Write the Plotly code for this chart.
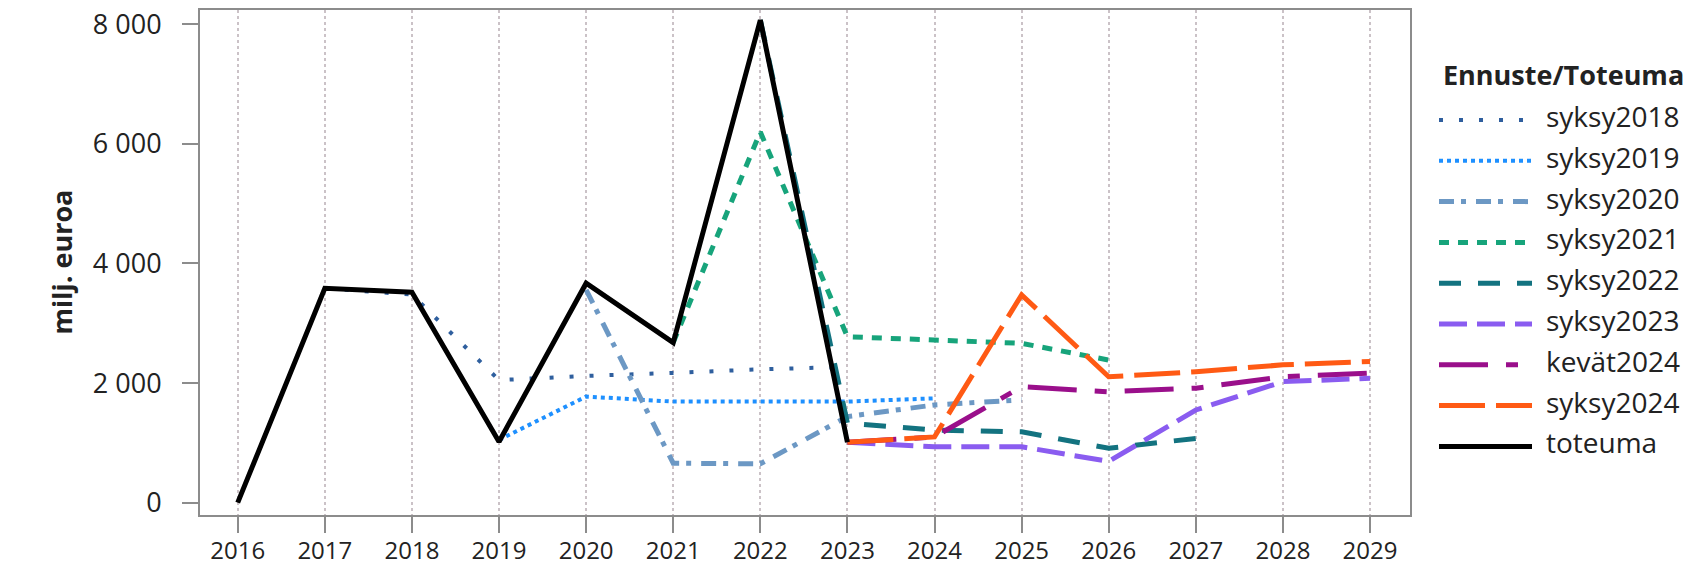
import plotly.graph_objects as go

# data (milj. euroa)
years = list(range(2016, 2030))

toteuma = [0, 3585, 3520, 1020, 3670, 2676, 8070, 1010, None, None, None, None, None, None]
syksy2018 = [None, 3585, 3480, 2050, 2120, 2170, 2230, 2270, None, None, None, None, None, None]
syksy2019 = [None, None, None, 1050, 1775, 1690, 1690, 1690, 1745, None, None, None, None, None]
syksy2020 = [None, None, None, None, 3560, 660, 650, 1440, 1635, 1720, None, None, None, None]
syksy2021 = [None, None, None, None, None, 2676, 6200, 2775, 2720, 2665, 2385, None, None, None]
syksy2022 = [None, None, None, None, None, None, 8070, 1330, 1215, 1185, 910, 1075, None, None]
syksy2023 = [None, None, None, None, None, None, None, 1010, 935, 935, 690, 1550, 2025, 2080]
kevat2024 = [None, None, None, None, None, None, None, 1010, 1100, 1940, 1855, 1915, 2105, 2165]
syksy2024 = [None, None, None, None, None, None, None, 1010, 1100, 3475, 2105, 2190, 2305, 2360]

y_ticks = [0, 2000, 4000, 6000, 8000]

series = [
    ("syksy2018", syksy2018, "#2f5f9e", "4px,16px", 4),
    ("syksy2019", syksy2019, "#1e90ff", "4px,4px", 4),
    ("syksy2020", syksy2020, "#6c98c4", "15px,7px,5px,10px", 5),
    ("syksy2021", syksy2021, "#17a47b", "10px,9px", 5),
    ("syksy2022", syksy2022, "#137380", "22px,17px", 5),
    ("syksy2023", syksy2023, "#8a5cf0", "28px,10px", 5),
    ("kevät2024", kevat2024, "#9a0f8b", "49px,18px,12px,18px", 5),
    ("syksy2024", syksy2024, "#ff5a14", "46px,11px", 5),
    ("toteuma", toteuma, "#000000", "solid", 5),
]

# page size and plot-area margins in pixels
W, H = 1689, 567
L, R, T, B = 200, 279, 10, 52
FONT = "Open Sans"


def px_x(x):
    return (x - L) / (W - L - R)


def px_y(y):
    return (H - B - y) / (H - T - B)


fig = go.Figure()

for name, vals, color, dash, width in series:
    fig.add_trace(go.Scatter(
        x=years, y=vals, name=name, mode="lines",
        line=dict(color=color, dash=dash, width=width),
        connectgaps=False, showlegend=False,
    ))

# hand-made legend so the line samples are long like in the original
fig.add_annotation(
    x=px_x(1441), y=px_y(74), xref="paper", yref="paper",
    text="<b>Ennuste/Toteuma</b>", showarrow=False,
    xanchor="left", yanchor="middle", font=dict(size=27, color="#222"),
)
for i, (name, vals, color, dash, width) in enumerate(series):
    row_y = 120 + i * 40.8
    fig.add_shape(
        type="line", xref="paper", yref="paper",
        x0=px_x(1439), x1=px_x(1532), y0=px_y(row_y), y1=px_y(row_y),
        line=dict(color=color, dash=dash, width=width),
    )
    fig.add_annotation(
        x=px_x(1544), y=px_y(row_y - 4), xref="paper", yref="paper",
        text=name, showarrow=False, xanchor="left", yanchor="middle",
        font=dict(size=28, color="#222"),
    )

fig.add_annotation(
    x=px_x(40), y=px_y(262), xref="paper", yref="paper",
    text="<b>milj. euroa</b>", showarrow=False, textangle=-90,
    font=dict(size=27, color="#222"),
)

fig.update_xaxes(
    range=[2015.567, 2029.459], tickvals=years,
    showgrid=True, griddash="dot", gridcolor="#cbc2c7", gridwidth=2,
    showline=True, mirror=True, linecolor="#8c8c8c", linewidth=2,
    ticks="outside", ticklen=16, tickwidth=2, tickcolor="#8c8c8c",
    ticklabelstandoff=-3, zeroline=False,
    tickfont=dict(size=24, color="#222"),
)
fig.update_yaxes(
    range=[-206, 8239], tickvals=y_ticks, tickformat=",d",
    showgrid=False,
    showline=True, mirror=True, linecolor="#8c8c8c", linewidth=2,
    ticks="outside", ticklen=16, tickwidth=2, tickcolor="#8c8c8c",
    ticklabelstandoff=15, zeroline=False,
    tickfont=dict(size=27, color="#222"),
)

fig.update_layout(
    width=W, height=H,
    margin=dict(l=L, r=R, t=T, b=B, autoexpand=False),
    separators=", ",
    paper_bgcolor="white", plot_bgcolor="white",
    font=dict(family=FONT, color="#222"),
    showlegend=False,
)

# drop the default page margin so the figure fills the window exactly
fig.write_html(
    "out.html",
    config={"displayModeBar": False},
    post_script="document.body.style.margin='0';document.body.style.overflow='hidden';",
)
